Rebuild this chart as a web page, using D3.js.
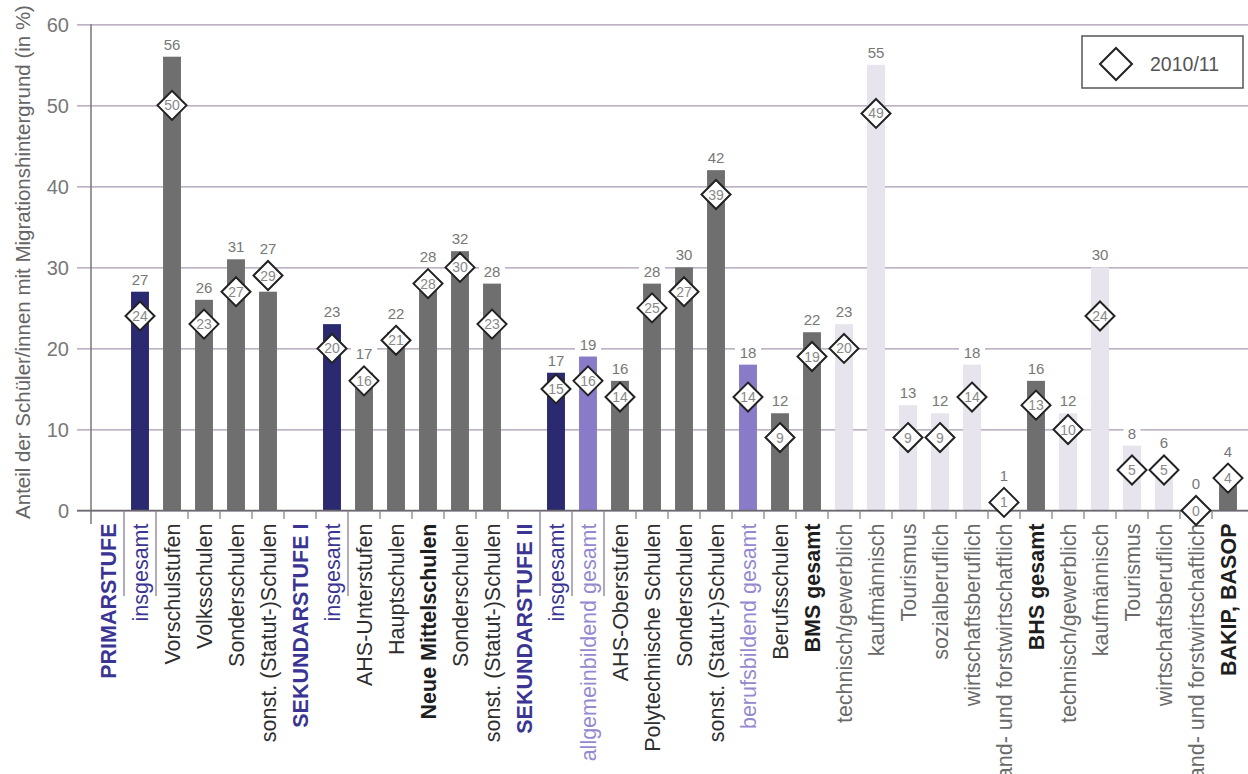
<!DOCTYPE html>
<html>
<head>
<meta charset="utf-8">
<script src="https://cdn.jsdelivr.net/npm/d3@7"></script>
<style>
  html, body { margin: 0; padding: 0; background: #fff; }
  svg { display: block; font-family: "Liberation Sans", Arial, Helvetica, sans-serif; }
</style>
</head>
<body>
<svg id="chart" width="1248" height="774"></svg>
<script>
const categories = ["PRIMARSTUFE","insgesamt","Vorschulstufen","Volksschulen","Sonderschulen","sonst. (Statut-)Schulen",
  "SEKUNDARSTUFE I","insgesamt","AHS-Unterstufen","Hauptschulen","Neue Mittelschulen","Sonderschulen","sonst. (Statut-)Schulen",
  "SEKUNDARSTUFE II","insgesamt","allgemeinbildend gesamt","AHS-Oberstufen","Polytechnische Schulen","Sonderschulen",
  "sonst. (Statut-)Schulen","berufsbildend gesamt","Berufsschulen","BMS gesamt","technisch/gewerblich","kaufmännisch",
  "Tourismus","sozialberuflich","wirtschaftsberuflich","land- und forstwirtschaftlich","BHS gesamt","technisch/gewerblich",
  "kaufmännisch","Tourismus","wirtschaftsberuflich","land- und forstwirtschaftlich","BAKIP, BASOP"];
const valuesCurrent = [null,27,56,26,31,27,null,23,17,22,28,32,28,null,17,19,16,28,30,42,18,12,22,23,55,13,12,18,1,16,12,30,8,6,0,4];
const values2010 = [null,24,50,23,27,29,null,20,16,21,28,30,23,null,15,16,14,25,27,39,14,9,19,20,49,9,9,14,1,13,10,24,5,5,0,4];
const kinds = ["stage","total","main","main","main","main","stage","total","main","main","mainBold","main","main",
  "stage","total","group","main","main","main","main","group","main","mainBold","sub","sub","sub","sub","sub","sub",
  "mainBold","sub","sub","sub","sub","sub","mainBold"];
const yTicks = [0,10,20,30,40,50,60];
const longDividers = [1,2,8,14,15,16];
const legendLabel = "2010/11";
const yTitle = "Anteil der Schüler/innen mit Migrationshintergrund (in %)";

const barColor = {total:"#2b2a70", main:"#6f6f6f", mainBold:"#6f6f6f", group:"#8a7bc9", sub:"#e7e4ee"};
const labelColor = {stage:"#3a3592", total:"#3a3592", main:"#2e2e2e", mainBold:"#1e1e1e", group:"#9488cf", sub:"#6a6a6a"};
const labelWeight = {stage:"bold", total:"normal", main:"normal", mainBold:"bold", group:"normal", sub:"normal"};

const svg = d3.select("#chart");
const idx = categories.map((d,i)=>i);
const x = d3.scaleBand().domain(idx).range([92,1244]).padding(0);
const y = d3.scaleLinear().domain([0,60]).range([510.5,24.3]);
const barW = x.bandwidth()*0.56;
const dHalf = 14.5;

// grid + y axis
const yAxis = d3.axisLeft(y).tickValues(yTicks).tickSizeInner(-(1248-77)).tickSizeOuter(0).tickPadding(8);
const gy = svg.append("g").attr("transform","translate(77,0)").call(yAxis);
gy.select(".domain").remove();
gy.selectAll(".tick line").attr("stroke", "#a898b2").attr("stroke-width",1.3);
gy.selectAll(".tick text").attr("fill","#777").style("font-size","20px").attr("dy","0.36em");

// y axis vertical line
svg.append("line").attr("x1",91).attr("x2",91).attr("y1",y(60)).attr("y2",524)
  .attr("stroke","#777").attr("stroke-width",1.5);

// bars
svg.append("g").selectAll("rect").data(idx.filter(i=>valuesCurrent[i]!==null)).join("rect")
  .attr("x", i=>x(i)+x.bandwidth()/2-barW/2)
  .attr("width", barW)
  .attr("y", i=>y(valuesCurrent[i]))
  .attr("height", i=>y(0)-y(valuesCurrent[i]))
  .attr("fill", i=>barColor[kinds[i]]);

// x axis line
svg.append("line").attr("x1",77).attr("x2",1248).attr("y1",y(0)).attr("y2",y(0))
  .attr("stroke","#6a6a6a").attr("stroke-width",1.5);

// dividers
const bounds = d3.range(1, categories.length);
svg.append("g").selectAll("line").data(bounds).join("line")
  .attr("x1", b=>x(b)).attr("x2", b=>x(b))
  .attr("y1", y(0)).attr("y2", b=> longDividers.includes(b) ? 596 : 519)
  .attr("stroke", b=> longDividers.includes(b) ? "#8a7c98" : "#888")
  .attr("stroke-width", 1.3);

// x labels via axis
const xAxis = d3.axisBottom(x).tickSize(0).tickFormat(i=>categories[i]);
const gx = svg.append("g").attr("transform",`translate(0,${y(0)})`).call(xAxis);
gx.select(".domain").remove();
gx.selectAll(".tick text")
  .attr("transform","rotate(-90)")
  .attr("x",-13).attr("y",0).attr("dy","0.36em")
  .attr("text-anchor","end")
  .style("font-size","21.5px")
  .attr("fill", i=>labelColor[kinds[i]])
  .attr("font-weight", i=>labelWeight[kinds[i]]);

// value labels
const withVal = idx.filter(i=>valuesCurrent[i]!==null);
const labelBase = i => Math.min(y(valuesCurrent[i]), y(values2010[i]) - dHalf) - 7;
const vl = svg.append("g").selectAll("g").data(withVal).join("g")
  .attr("transform", i=>`translate(${x(i)+x.bandwidth()/2},${labelBase(i)})`);
vl.append("rect").attr("x", i=> -String(valuesCurrent[i]).length*4.5-4).attr("y",-13)
  .attr("width", i=> String(valuesCurrent[i]).length*9+8).attr("height",16).attr("fill","#fff");
vl.append("text").attr("text-anchor","middle").attr("fill","#777").style("font-size","15px")
  .text(i=>valuesCurrent[i]);

// diamonds 2010/11
const dm = svg.append("g").selectAll("g").data(idx.filter(i=>values2010[i]!==null)).join("g")
  .attr("transform", i=>`translate(${x(i)+x.bandwidth()/2},${y(values2010[i])})`);
dm.append("path").attr("d", `M0,${-dHalf}L${dHalf},0L0,${dHalf}L${-dHalf},0Z`)
  .attr("fill","#fff").attr("stroke","#222").attr("stroke-width",2);
dm.append("text").attr("text-anchor","middle").attr("dy","0.36em").attr("fill","#888")
  .style("font-size","14px").text(i=>values2010[i]);

// y title
svg.append("text").attr("transform","translate(23,262) rotate(-90)")
  .attr("text-anchor","middle").attr("dy","0.36em").attr("fill","#666")
  .style("font-size","20.5px").text(yTitle);

// legend
const lg = svg.append("g");
lg.append("rect").attr("x",1082).attr("y",36).attr("width",161).attr("height",52)
  .attr("fill","#fff").attr("stroke","#555").attr("stroke-width",1.5);
lg.append("path").attr("d","M1116,48L1132,64L1116,80L1100,64Z").attr("fill","#fff").attr("stroke","#222").attr("stroke-width",2);
lg.append("text").attr("x",1150).attr("y",64).attr("dy","0.36em").attr("fill","#555")
  .style("font-size","19.5px").text(legendLabel);
</script>
</body>
</html>
